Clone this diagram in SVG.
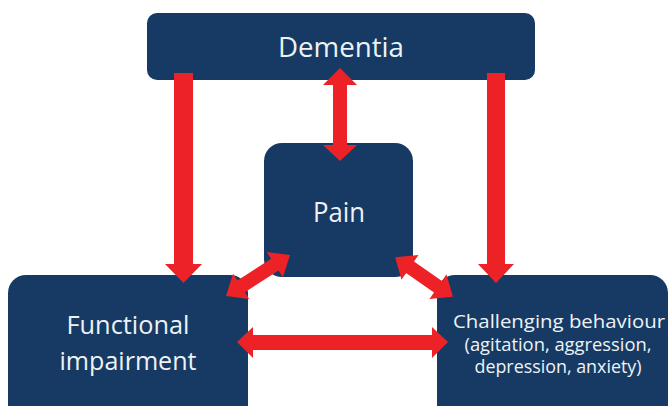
<svg xmlns="http://www.w3.org/2000/svg" width="669" height="406" viewBox="0 0 669 406">
<style>
.box{fill:#163a63;}
.t{fill:#eef2f6;font-family:"Open Sans","Noto Sans",sans-serif;text-anchor:middle;}
.arr{fill:#ec2227;}
</style>
<rect width="669" height="406" fill="#ffffff"/>
<g id="dementia">
<rect class="box" x="147" y="13" width="388" height="67" rx="10"/>
<text class="t" x="341" y="57" font-size="27" textLength="126" lengthAdjust="spacingAndGlyphs">Dementia</text>
</g>
<g id="pain">
<rect class="box" x="264" y="143" width="149" height="134" rx="18"/>
<text class="t" x="339" y="222" font-size="27" textLength="52" lengthAdjust="spacingAndGlyphs">Pain</text>
</g>
<g id="functional">
<rect class="box" x="8" y="275" width="240" height="150" rx="18"/>
<text class="t" x="128" y="334" font-size="26" textLength="123" lengthAdjust="spacingAndGlyphs">Functional</text>
<text class="t" x="128" y="370" font-size="26" textLength="137" lengthAdjust="spacingAndGlyphs">impairment</text>
</g>
<g id="challenging">
<rect class="box" x="437" y="275" width="231" height="150" rx="18"/>
<text class="t" x="559" y="328" font-size="18" textLength="212" lengthAdjust="spacingAndGlyphs">Challenging behaviour</text>
<text class="t" x="558" y="351" font-size="18" textLength="187" lengthAdjust="spacingAndGlyphs">(agitation, aggression,</text>
<text class="t" x="558" y="373" font-size="18" textLength="167" lengthAdjust="spacingAndGlyphs">depression, anxiety)</text>
</g>
<g id="connectors">
<polygon class="arr" points="174,73 193,73 193,264 202,264 183.5,283 165,264 174,264"/>
<polygon class="arr" points="487,73 505,73 505,264 514,264 496,283 478,264 487,264"/>
<polygon class="arr" points="340,68 357,85 347,85 347,145 357,145 340,161 323,145 333,145 333,85 323,85"/>
<polygon class="arr" points="237,342 253,327 253,335 432,335 432,327 448,342 432,358 432,350 253,350 253,358"/>
<polygon class="arr" transform="translate(258 275.5) rotate(-32.6)" points="-38,0 -20,-15 -20,-7 20,-7 20,-15 38,0 20,15 20,7 -20,7 -20,15"/>
<polygon class="arr" transform="translate(424 277) rotate(34.6)" points="-35,0 -17,-15 -17,-7 17,-7 17,-15 35,0 17,15 17,7 -17,7 -17,15"/>
</g>
</svg>
